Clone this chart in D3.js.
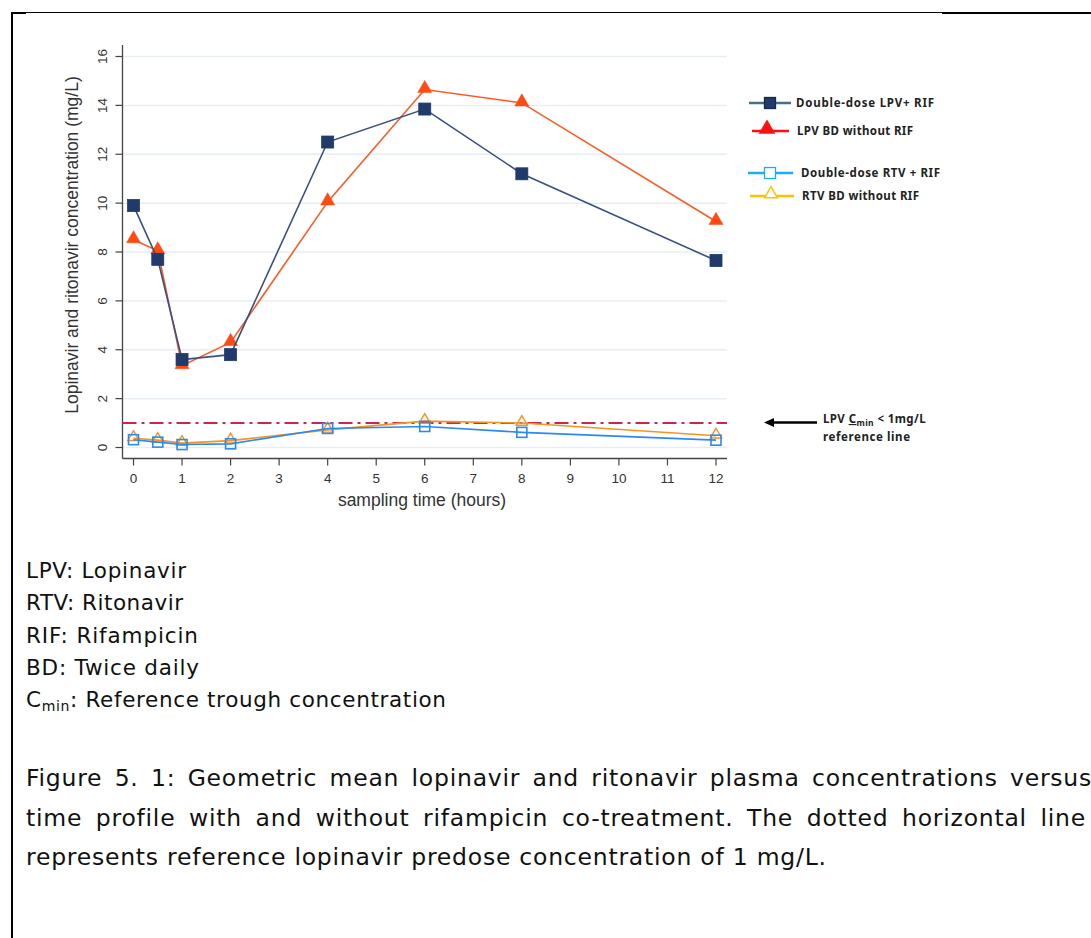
<!DOCTYPE html>
<html>
<head>
<meta charset="utf-8">
<script src="https://cdn.jsdelivr.net/npm/d3@7"></script>
<style>
  body { margin: 0; background: #fff; }
  svg { display: block; }
</style>
</head>
<body>
<div id="chart"></div>
<script>
// sampling times (hours)
var times = [0, 0.5, 1, 2, 4, 6, 8, 12];
// geometric mean concentrations (mg/L)
var lpvDouble = [9.9, 7.7, 3.6, 3.8, 12.5, 13.85, 11.2, 7.65];
var lpvBD = [8.5, 8.05, 3.35, 4.3, 10.05, 14.65, 14.1, 9.25];
var rtvDouble = [0.32, 0.22, 0.12, 0.15, 0.78, 0.86, 0.62, 0.3];
var rtvBD = [0.38, 0.3, 0.18, 0.28, 0.72, 1.08, 1.0, 0.48];
var refValue = 1;

var xTicks = [0, 1, 2, 3, 4, 5, 6, 7, 8, 9, 10, 11, 12];
var yTicks = [0, 2, 4, 6, 8, 10, 12, 14, 16];

var legendLabels = ["Double-dose LPV+ RIF", "LPV BD without RIF", "Double-dose RTV + RIF", "RTV BD without RIF"];
var abbrevs = [
  ["LPV", ": Lopinavir"],
  ["RTV", ": Ritonavir"],
  ["RIF", ": Rifampicin"],
  ["BD", ": Twice daily"],
  ["C", ": Reference trough concentration", "min"]
];
var captionLines = [
  "Figure 5. 1: Geometric mean lopinavir and ritonavir plasma concentrations versus",
  "time profile with and without rifampicin co-treatment. The dotted horizontal line",
  "represents reference lopinavir predose concentration of 1 mg/L."
];

var width = 1091, height = 938;
var axisFont = "'Liberation Sans', Arial, sans-serif";
var docFont = "'DejaVu Sans', 'Noto Sans', sans-serif";
var legFont = "'Noto Sans', 'Open Sans', sans-serif";

var svg = d3.select("#chart").append("svg")
  .attr("width", width)
  .attr("height", height);

// stretch a text to a given width with letter spacing (the reference font is wider)
function fitWidth(t, target) {
  var w = t.node().getComputedTextLength();
  var n = t.text().length;
  var ls = (target - w) / Math.max(1, n - 1);
  t.style("letter-spacing", ls + "px");
  return ls;
}

// page border bits
svg.append("line").attr("x1", 12).attr("x2", 942).attr("y1", 12.5).attr("y2", 12.5)
  .style("stroke", "#000").style("stroke-width", 1);
svg.append("line").attr("x1", 942).attr("x2", 1091).attr("y1", 13).attr("y2", 13)
  .style("stroke", "#000").style("stroke-width", 2);
svg.append("line").attr("x1", 12).attr("x2", 12).attr("y1", 12).attr("y2", height)
  .style("stroke", "#000").style("stroke-width", 2);
svg.append("line").attr("x1", 12).attr("x2", 26).attr("y1", 13).attr("y2", 13)
  .style("stroke", "#000").style("stroke-width", 2);

// scales
var x = d3.scaleLinear().domain([0, 12]).range([133.5, 716]);
var y = d3.scaleLinear().domain([0, 16]).range([447.5, 56.5]);

var axisLeft = 122.5, axisRight = 727, axisTop = 45, axisBottom = 458.5;

// gridlines
svg.append("g").selectAll("line").data(yTicks).enter().append("line")
  .attr("x1", axisLeft).attr("x2", axisRight)
  .attr("y1", function (d) { return y(d); })
  .attr("y2", function (d) { return y(d); })
  .style("stroke", "#e6eef3").style("stroke-width", 1.5);

// axes
var axisG = svg.append("g").style("font-family", axisFont);
axisG.append("line").attr("x1", axisLeft).attr("x2", axisLeft).attr("y1", axisTop).attr("y2", axisBottom)
  .style("stroke", "#444").style("stroke-width", 1.3);
axisG.append("line").attr("x1", axisLeft).attr("x2", axisRight).attr("y1", axisBottom).attr("y2", axisBottom)
  .style("stroke", "#444").style("stroke-width", 1.3);

axisG.selectAll(".yt").data(yTicks).enter().append("line")
  .attr("x1", axisLeft - 7).attr("x2", axisLeft)
  .attr("y1", function (d) { return y(d); })
  .attr("y2", function (d) { return y(d); })
  .style("stroke", "#444").style("stroke-width", 1.2);
axisG.selectAll(".yl").data(yTicks).enter().append("text")
  .attr("transform", function (d) { return "translate(107," + y(d) + ") rotate(-90)"; })
  .attr("text-anchor", "middle")
  .style("font-size", "13.5px").style("fill", "#333")
  .text(String);

axisG.selectAll(".xt").data(xTicks).enter().append("line")
  .attr("x1", function (d) { return x(d); })
  .attr("x2", function (d) { return x(d); })
  .attr("y1", axisBottom).attr("y2", axisBottom + 7)
  .style("stroke", "#444").style("stroke-width", 1.2);
axisG.selectAll(".xl").data(xTicks).enter().append("text")
  .attr("x", function (d) { return x(d); })
  .attr("y", 483)
  .attr("text-anchor", "middle")
  .style("font-size", "13.5px").style("fill", "#333")
  .text(String);

axisG.append("text")
  .attr("x", 422).attr("y", 506)
  .attr("text-anchor", "middle")
  .style("font-size", "17.5px").style("fill", "#333")
  .text("sampling time (hours)");
axisG.append("text")
  .attr("transform", "translate(78,245) rotate(-90)")
  .attr("text-anchor", "middle")
  .style("font-size", "17.5px").style("fill", "#333")
  .text("Lopinavir and ritonavir concentration (mg/L)");

// reference line
svg.append("line")
  .attr("x1", axisLeft).attr("x2", axisRight)
  .attr("y1", y(refValue)).attr("y2", y(refValue))
  .style("stroke", "#c8284f").style("stroke-width", 2)
  .style("stroke-dasharray", "14,5,3,5");

// series
function seriesData(vals) {
  return times.map(function (t, i) { return { t: t, v: vals[i] }; });
}
var line = d3.line().x(function (d) { return x(d.t); }).y(function (d) { return y(d.v); });
var triSym = d3.symbol().type(d3.symbolTriangle);

function drawSeries(vals, color, lineColor, marker, hollow, size) {
  var g = svg.append("g");
  var data = seriesData(vals);
  g.append("path").datum(data).attr("d", line)
    .style("fill", "none").style("stroke", lineColor).style("stroke-width", 1.6);
  if (marker === "square") {
    g.selectAll("rect").data(data).enter().append("rect")
      .attr("x", function (d) { return x(d.t) - size / 2; })
      .attr("y", function (d) { return y(d.v) - size / 2; })
      .attr("width", size).attr("height", size)
      .style("fill", hollow ? "none" : color)
      .style("stroke", color).style("stroke-width", hollow ? 1.6 : 0.8);
  } else {
    g.selectAll("path.m").data(data).enter().append("path")
      .attr("class", "m")
      .attr("transform", function (d) { return "translate(" + x(d.t) + "," + (y(d.v) - 1) + ")"; })
      .attr("d", triSym.size(size))
      .style("fill", hollow ? "none" : color)
      .style("stroke", color).style("stroke-width", hollow ? 1.4 : 0.5);
  }
}

drawSeries(lpvBD, "#ff4a12", "#ff5a26", "triangle", false, 85);
drawSeries(lpvDouble, "#1f3a6b", "#3c5080", "square", false, 12);
drawSeries(rtvBD, "#f7931e", "#f7931e", "triangle", true, 55);
drawSeries(rtvDouble, "#2a8af0", "#2a8af0", "square", true, 10);

// legend
var legend = svg.append("g").style("font-family", legFont).style("font-weight", "bold")
  .style("font-size", "11.5px").style("fill", "#222");
var legRows = [
  { y: 103, x1: 749, x2: 791, mx: 770, tx: 796, end: 934, line: "#4a6e86", mark: "square", fill: "#1f3a6b", hollow: false },
  { y: 131, x1: 752, x2: 789, mx: 767, tx: 797, end: 913, line: "#ff1010", mark: "triangle", fill: "#ff1010", hollow: false },
  { y: 173, x1: 748, x2: 793, mx: 770, tx: 801, end: 940, line: "#1ab0f0", mark: "square", fill: "#1ab0f0", hollow: true },
  { y: 196, x1: 750, x2: 794, mx: 771, tx: 802, end: 919, line: "#ffc000", mark: "triangle", fill: "#ffc000", hollow: true }
];
legRows.forEach(function (r, i) {
  legend.append("line").attr("x1", r.x1).attr("x2", r.x2).attr("y1", r.y).attr("y2", r.y)
    .style("stroke", r.line).style("stroke-width", 2.5);
  if (r.mark === "square") {
    legend.append("rect").attr("x", r.mx - 5.5).attr("y", r.y - 5.5).attr("width", 11).attr("height", 11)
      .style("fill", r.hollow ? "#fff" : r.fill).style("stroke", r.hollow ? r.fill : "#16294a").style("stroke-width", 1.3);
  } else {
    legend.append("path").attr("transform", "translate(" + r.mx + "," + (r.y - 2) + ")")
      .attr("d", triSym.size(r.hollow ? 70 : 85))
      .style("fill", r.hollow ? "#fff" : r.fill).style("stroke", r.fill).style("stroke-width", 1.5);
  }
  var t = legend.append("text").attr("x", r.tx).attr("y", r.y + 4).text(legendLabels[i]);
  fitWidth(t, r.end - r.tx);
});

// arrow annotation for the reference line
var ann = svg.append("g").style("font-family", legFont).style("font-weight", "bold")
  .style("font-size", "11.5px").style("fill", "#222");
ann.append("line").attr("x1", 817).attr("x2", 772).attr("y1", y(refValue) - 0.5).attr("y2", y(refValue) - 0.5)
  .style("stroke", "#000").style("stroke-width", 2.5);
ann.append("path")
  .attr("d", "M764," + (y(refValue) - 0.5) + " l10,-4.5 l0,9 z")
  .style("fill", "#000");
var t1 = ann.append("text").attr("x", 823).attr("y", 423).style("letter-spacing", "0.4px");
t1.append("tspan").text("LPV ");
t1.append("tspan").text("C").style("text-decoration", "underline").style("text-decoration-color", "#c44");
t1.append("tspan").text("min").attr("dy", 3).style("font-size", "8.5px");
t1.append("tspan").text(" < 1mg/L").attr("dy", -3);
var t2 = ann.append("text").attr("x", 823).attr("y", 441).text("reference line");
fitWidth(t2, 910 - 823);

// abbreviation list
var abbrEnds = [186, 183, 198, 199, 446];
var abbr = svg.append("g").style("font-family", docFont).style("font-size", "21.5px").style("fill", "#111");
abbrevs.forEach(function (a, i) {
  var t = abbr.append("text").attr("x", 26).attr("y", 578 + i * 32.3);
  t.append("tspan").text(a[0]);
  if (a[2]) {
    t.append("tspan").text(a[2]).attr("dy", 4).style("font-size", "14px");
    t.append("tspan").text(a[1]).attr("dy", -4);
  } else {
    t.append("tspan").text(a[1]);
  }
  fitWidth(t, abbrEnds[i] - 26);
});

// caption: last line sets the letter spacing, first two are justified with word spacing
var capEnds = [1092, 1086, 826];
var cap = svg.append("g").style("font-family", docFont).style("font-size", "23.5px").style("fill", "#111");
var capTexts = captionLines.map(function (s, i) {
  return cap.append("text").attr("x", 26).attr("y", 786 + i * 39.5).text(s);
});
var ls = fitWidth(capTexts[2], capEnds[2] - 26);
[0, 1].forEach(function (i) {
  var t = capTexts[i].style("letter-spacing", ls + "px");
  var w = t.node().getComputedTextLength();
  var spaces = captionLines[i].split(" ").length - 1;
  t.style("word-spacing", ((capEnds[i] - 26 - w) / spaces) + "px");
});
</script>
</body>
</html>
